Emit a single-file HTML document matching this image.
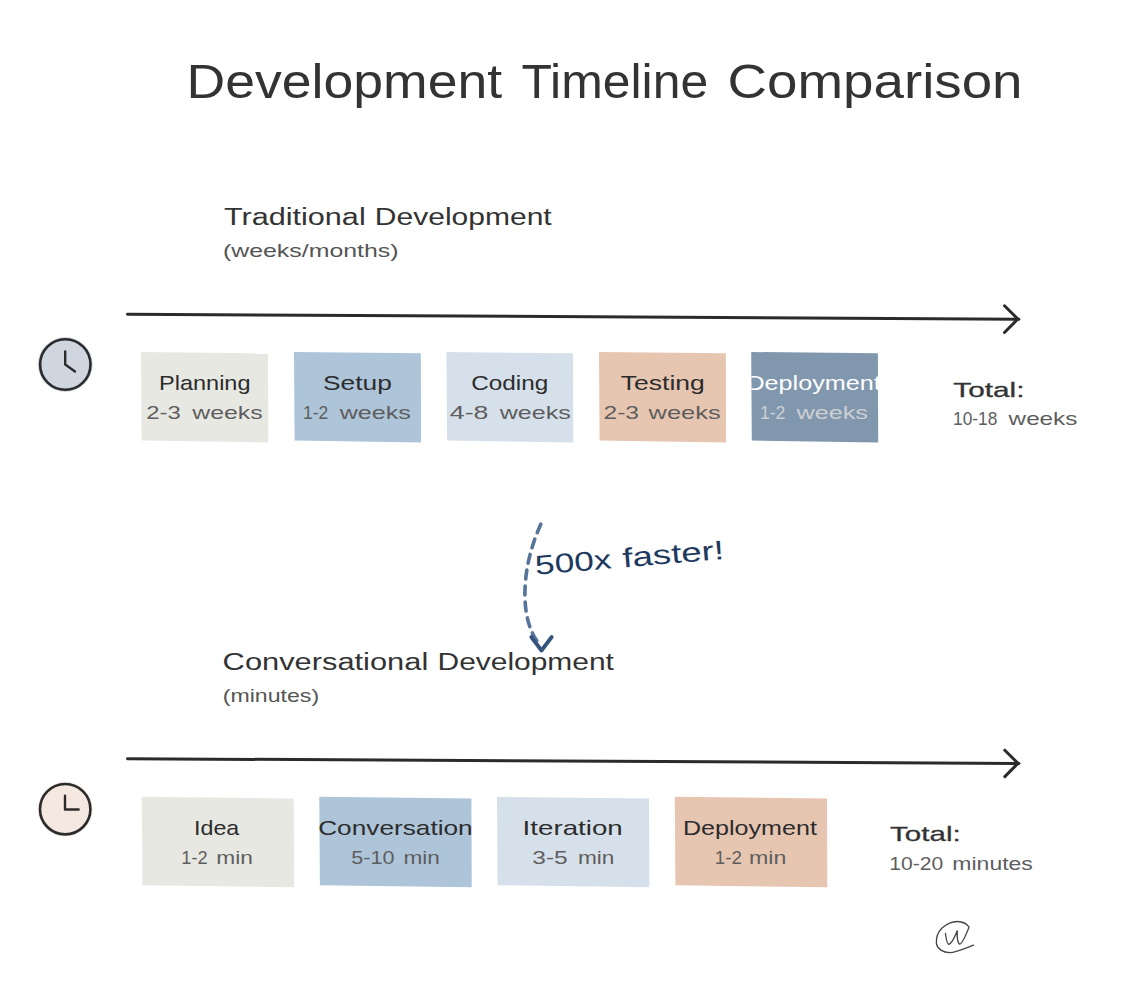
<!DOCTYPE html>
<html><head><meta charset="utf-8">
<style>
html,body{margin:0;padding:0;background:#fff;}
body{width:1126px;height:994px;overflow:hidden;position:relative;}
svg{position:absolute;left:0;top:0;}
text{font-family:"Liberation Sans",sans-serif;}
</style></head>
<body>
<svg width="1126" height="994" viewBox="0 0 1126 994">
<defs><clipPath id="c5"><polygon points="751.2,352 877.9,353.3 878.2,442.5 751.8,440.5"/></clipPath></defs>
<rect x="0" y="0" width="1126" height="994" fill="#ffffff"/>

<!-- Arrow 1 -->
<g stroke="#2b2b2b" stroke-width="3" stroke-linecap="round" fill="none">
<path d="M127.5 314.2 L1019 319.2"/>
<path d="M1004.5 305.8 L1017.8 319 L1004.5 332.5"/>
</g>

<!-- Clock 1 -->
<circle cx="65.3" cy="364.5" r="27.4" fill="#cfd6e0"/>
<circle cx="65.3" cy="364.5" r="25.2" fill="none" stroke="#2b2b2b" stroke-width="2.6"/>
<path d="M65.2 351.5 L65.2 364.5 L75 371.5" fill="none" stroke="#2b2b2b" stroke-width="2.4" stroke-linecap="round" stroke-linejoin="round"/>

<!-- Row 1 boxes -->
<polygon points="141,352 268,353.3 268.3,442.5 141.6,440.5" fill="#e8e8e3"/>
<polygon points="294,352 420.8,353.3 421.1,442.5 294.6,440.5" fill="#adc4d9"/>
<polygon points="446.5,352 573,353.3 573.3,442.5 447.1,440.5" fill="#d6e0ea"/>
<polygon points="599,352 725.8,353.3 726.0999999999999,442.5 599.6,440.5" fill="#e6c5b1"/>
<polygon points="751.2,352 877.9,353.3 878.1999999999999,442.5 751.8000000000001,440.5" fill="#8197ae"/>
<g clip-path="url(#c5)"><text x="746.44" y="389.8" font-size="21" fill="#ffffff" textLength="134.25" lengthAdjust="spacingAndGlyphs">Deployment</text></g>

<!-- Dashed curved arrow -->
<path d="M540.8 524.2 C 520 570, 520 620, 538.5 643" fill="none" stroke="#56749a" stroke-width="3.6" stroke-dasharray="9 7" stroke-linecap="round"/>
<path d="M531.3 637 L541.5 650.5 L551.7 637" fill="none" stroke="#34547d" stroke-width="3.8" stroke-linecap="round" stroke-linejoin="round"/>
<g transform="rotate(-4.8 537.3 574.6)"><text x="535.89" y="574.6" font-size="27" fill="#1e3a5f" textLength="76.49" lengthAdjust="spacingAndGlyphs">500x</text><text x="623.48" y="574.6" font-size="27" fill="#1e3a5f" textLength="101.85" lengthAdjust="spacingAndGlyphs">faster!</text></g>

<!-- Arrow 2 -->
<g stroke="#2b2b2b" stroke-width="3" stroke-linecap="round" fill="none">
<path d="M127.5 758.7 L1019 763.4"/>
<path d="M1004.8 750.2 L1018 763.3 L1004.8 776.6"/>
</g>

<!-- Clock 2 -->
<circle cx="65.2" cy="809.2" r="27.4" fill="#f5e8e0"/>
<circle cx="65.2" cy="809.2" r="25.2" fill="none" stroke="#2b2b2b" stroke-width="2.6"/>
<path d="M65 795.8 L65 809.5 L78.6 809.5" fill="none" stroke="#2b2b2b" stroke-width="2.4" stroke-linecap="round" stroke-linejoin="round"/>

<!-- Row 2 boxes -->
<polygon points="141.8,796.8 293.8,798.4 294.1,887.3000000000001 142.4,885.2" fill="#e8e8e3"/>
<polygon points="319.3,796.8 471.4,798.4 471.7,887.3000000000001 319.90000000000003,885.2" fill="#adc4d9"/>
<polygon points="497,796.8 649,798.4 649.3,887.3000000000001 497.6,885.2" fill="#d6e0ea"/>
<polygon points="674.8,796.8 827,798.4 827.3,887.3000000000001 675.4,885.2" fill="#e6c5b1"/>

<text x="186.61" y="97.5" font-size="48" fill="#333333" textLength="315.48" lengthAdjust="spacingAndGlyphs">Development</text>
<text x="521.49" y="97.5" font-size="48" fill="#333333" textLength="186.71" lengthAdjust="spacingAndGlyphs">Timeline</text>
<text x="727.62" y="97.5" font-size="48" fill="#333333" textLength="294.93" lengthAdjust="spacingAndGlyphs">Comparison</text>
<text x="223.92" y="224.6" font-size="23" fill="#333333" textLength="141.81" lengthAdjust="spacingAndGlyphs">Traditional</text>
<text x="374.84" y="224.6" font-size="23" fill="#333333" textLength="176.88" lengthAdjust="spacingAndGlyphs">Development</text>
<text x="222.96" y="256.7" font-size="19" fill="#555555" textLength="175.59" lengthAdjust="spacingAndGlyphs">(weeks/months)</text>
<text x="159.07" y="389.8" font-size="21" fill="#2c2c2c" textLength="91.44" lengthAdjust="spacingAndGlyphs">Planning</text>
<text x="323.00" y="389.8" font-size="21" fill="#2c2c2c" textLength="68.80" lengthAdjust="spacingAndGlyphs">Setup</text>
<text x="471.26" y="389.8" font-size="21" fill="#2c2c2c" textLength="77.10" lengthAdjust="spacingAndGlyphs">Coding</text>
<text x="620.82" y="389.8" font-size="21" fill="#2c2c2c" textLength="84.03" lengthAdjust="spacingAndGlyphs">Testing</text>
<text x="146.30" y="418.6" font-size="19" fill="#5e5e5e" textLength="34.55" lengthAdjust="spacingAndGlyphs">2-3</text>
<text x="192.24" y="418.6" font-size="19" fill="#5e5e5e" textLength="70.46" lengthAdjust="spacingAndGlyphs">weeks</text>
<text x="302.97" y="418.6" font-size="19" fill="#5e5e5e" textLength="25.21" lengthAdjust="spacingAndGlyphs">1-2</text>
<text x="339.74" y="418.6" font-size="19" fill="#5e5e5e" textLength="71.17" lengthAdjust="spacingAndGlyphs">weeks</text>
<text x="449.89" y="418.6" font-size="19" fill="#5e5e5e" textLength="38.57" lengthAdjust="spacingAndGlyphs">4-8</text>
<text x="499.74" y="418.6" font-size="19" fill="#5e5e5e" textLength="71.07" lengthAdjust="spacingAndGlyphs">weeks</text>
<text x="603.46" y="418.6" font-size="19" fill="#5e5e5e" textLength="35.62" lengthAdjust="spacingAndGlyphs">2-3</text>
<text x="648.64" y="418.6" font-size="19" fill="#5e5e5e" textLength="72.08" lengthAdjust="spacingAndGlyphs">weeks</text>
<text x="759.96" y="418.6" font-size="19" fill="#cdd0d3" textLength="25.42" lengthAdjust="spacingAndGlyphs">1-2</text>
<text x="796.54" y="418.6" font-size="19" fill="#cdd0d3" textLength="71.37" lengthAdjust="spacingAndGlyphs">weeks</text>
<text x="953.36" y="397" font-size="21" fill="#333333" textLength="71.14" lengthAdjust="spacingAndGlyphs" stroke="#333333" stroke-width="0.3">Total:</text>
<text x="953.08" y="424.5" font-size="19" fill="#5e5e5e" textLength="44.27" lengthAdjust="spacingAndGlyphs">10-18</text>
<text x="1008.64" y="424.5" font-size="19" fill="#5e5e5e" textLength="68.74" lengthAdjust="spacingAndGlyphs">weeks</text>
<text x="222.63" y="669.8" font-size="23" fill="#333333" textLength="205.63" lengthAdjust="spacingAndGlyphs">Conversational</text>
<text x="437.54" y="669.8" font-size="23" fill="#333333" textLength="176.37" lengthAdjust="spacingAndGlyphs">Development</text>
<text x="222.77" y="701.9" font-size="19" fill="#555555" textLength="96.37" lengthAdjust="spacingAndGlyphs">(minutes)</text>
<text x="194.05" y="835.2" font-size="21" fill="#2c2c2c" textLength="45.25" lengthAdjust="spacingAndGlyphs">Idea</text>
<text x="318.17" y="835.2" font-size="21" fill="#2c2c2c" textLength="154.54" lengthAdjust="spacingAndGlyphs">Conversation</text>
<text x="522.64" y="835.2" font-size="21" fill="#2c2c2c" textLength="100.16" lengthAdjust="spacingAndGlyphs">Iteration</text>
<text x="682.94" y="835.2" font-size="21" fill="#2c2c2c" textLength="133.94" lengthAdjust="spacingAndGlyphs">Deployment</text>
<text x="181.31" y="863.5" font-size="19" fill="#5e5e5e" textLength="26.30" lengthAdjust="spacingAndGlyphs">1-2</text>
<text x="216.39" y="863.5" font-size="19" fill="#5e5e5e" textLength="36.58" lengthAdjust="spacingAndGlyphs">min</text>
<text x="351.34" y="863.5" font-size="19" fill="#5e5e5e" textLength="43.21" lengthAdjust="spacingAndGlyphs">5-10</text>
<text x="403.50" y="863.5" font-size="19" fill="#5e5e5e" textLength="36.47" lengthAdjust="spacingAndGlyphs">min</text>
<text x="532.27" y="863.5" font-size="19" fill="#5e5e5e" textLength="35.46" lengthAdjust="spacingAndGlyphs">3-5</text>
<text x="578.00" y="863.5" font-size="19" fill="#5e5e5e" textLength="36.47" lengthAdjust="spacingAndGlyphs">min</text>
<text x="714.87" y="863.5" font-size="19" fill="#5e5e5e" textLength="27.07" lengthAdjust="spacingAndGlyphs">1-2</text>
<text x="748.96" y="863.5" font-size="19" fill="#5e5e5e" textLength="37.34" lengthAdjust="spacingAndGlyphs">min</text>
<text x="890.07" y="841" font-size="21" fill="#333333" textLength="70.61" lengthAdjust="spacingAndGlyphs" stroke="#333333" stroke-width="0.3">Total:</text>
<text x="889.39" y="869.9" font-size="19" fill="#5e5e5e" textLength="53.93" lengthAdjust="spacingAndGlyphs">10-20</text>
<text x="952.37" y="869.9" font-size="19" fill="#5e5e5e" textLength="80.46" lengthAdjust="spacingAndGlyphs">minutes</text>

<!-- signature -->
<path d="M945.5 933.3 C946 938, 946.5 943, 948.5 944.3 C951 944.5, 955 937, 957.3 930.5 C957 936, 957 942, 959.5 944.2 C962 944.5, 966 935, 969.1 927.1 C967 924, 962 921.6, 957.3 921.5 C952 921.5, 946.7 924, 942 928 C938 932, 936 938, 936.4 943.6 C937.5 949, 943 952.6, 949.8 952.6 C955 952.6, 961 950, 973.5 945.1" fill="none" stroke="#444" stroke-width="1.3" stroke-linecap="round"/>
</svg>
</body></html>
